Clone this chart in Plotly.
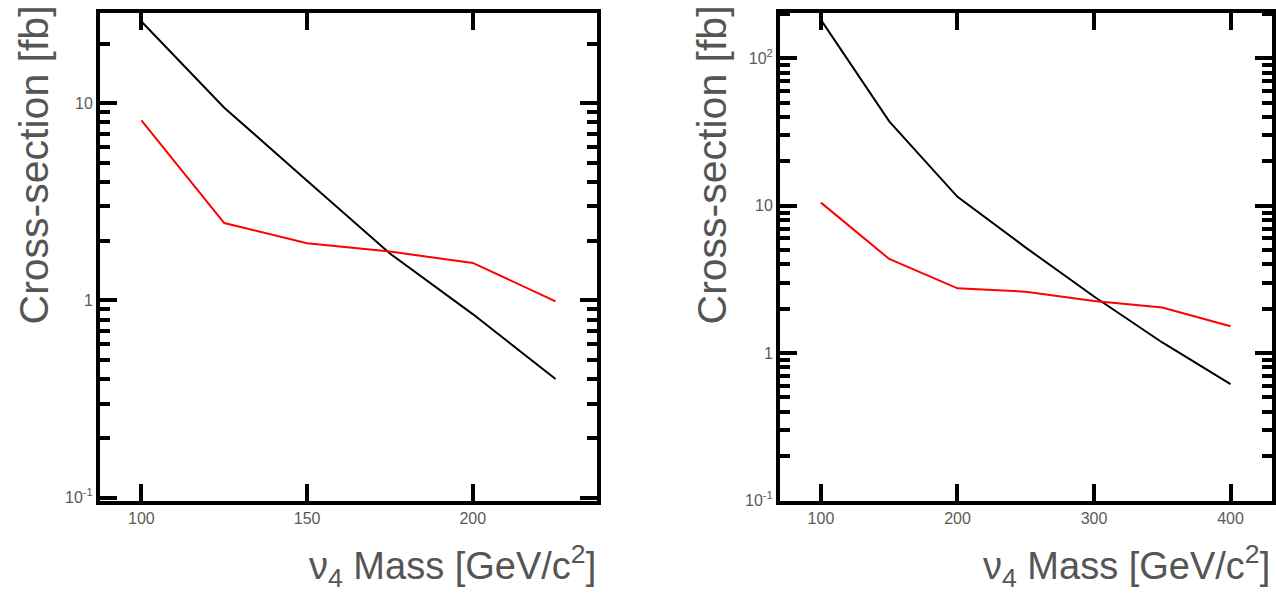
import plotly.graph_objects as go

# ---- data ----
left_mass = [100, 125, 150, 175, 200, 225]
left_black = [26.0, 9.5, 4.05, 1.73, 0.853, 0.40]
left_red = [8.2, 2.47, 1.95, 1.77, 1.55, 0.99]

right_mass = [100, 150, 200, 250, 300, 350, 400]
right_black = [183, 37.4, 11.5, 5.2, 2.42, 1.18, 0.615]
right_red = [10.5, 4.35, 2.75, 2.61, 2.26, 2.04, 1.52]

left_xticks = [100, 150, 200]
right_xticks = [100, 200, 300, 400]
left_yticks = [0.1, 1, 10]
left_yticklabels = ["10<sup>-1</sup>", "1", "10"]
right_yticks = [0.1, 1, 10, 100]
right_yticklabels = ["10<sup>-1</sup>", "1", "10", "10<sup>2</sup>"]
left_yminor = [0.2, 0.3, 0.4, 0.5, 0.6, 0.7, 0.8, 0.9, 2, 3, 4, 5, 6, 7, 8, 9, 20]
right_yminor = [0.2, 0.3, 0.4, 0.5, 0.6, 0.7, 0.8, 0.9, 2, 3, 4, 5, 6, 7, 8, 9,
                20, 30, 40, 50, 60, 70, 80, 90, 200]

x_title = "\u03bd<sub>4</sub> Mass [GeV/c<sup>2</sup>]"
y_title = "Cross-section [fb]"

W, H = 1276, 594
FONT = "Liberation Sans, Arial, sans-serif"
TXT = "#555555"

fig = go.Figure()
fig.add_trace(go.Scatter(x=left_mass, y=left_black, mode="lines",
                         line=dict(color="#000000", width=2), xaxis="x", yaxis="y"))
fig.add_trace(go.Scatter(x=left_mass, y=left_red, mode="lines",
                         line=dict(color="#ff0000", width=2), xaxis="x", yaxis="y"))
fig.add_trace(go.Scatter(x=right_mass, y=right_black, mode="lines",
                         line=dict(color="#000000", width=2), xaxis="x2", yaxis="y2"))
fig.add_trace(go.Scatter(x=right_mass, y=right_red, mode="lines",
                         line=dict(color="#ff0000", width=2), xaxis="x2", yaxis="y2"))

ydom = [(H - 507.6) / H, (H - 13) / H]
lx = [100 / W, 597 / W]
rx = [780 / W, 1271.5 / W]

common_ax = dict(showline=True, linecolor="black", linewidth=4, mirror="ticks",
                 ticks="inside", tickcolor="black", showgrid=False, zeroline=False,
                 tickfont=dict(family=FONT, size=16, color="#5a5a5a"))

fig.update_layout(
    width=W, height=H, margin=dict(l=0, r=0, t=0, b=0),
    paper_bgcolor="white", plot_bgcolor="white", showlegend=False,
    xaxis=dict(domain=lx, anchor="y", range=[87.5, 237.5], tickmode="array",
               tickvals=left_xticks, ticklen=17, tickwidth=4, **common_ax),
    yaxis=dict(domain=ydom, anchor="x", type="log", range=[-1.016, 1.459],
               tickmode="array", tickvals=left_yticks, ticktext=left_yticklabels,
               ticklen=17, tickwidth=4,
               minor=dict(tickmode="array", tickvals=left_yminor, ticks="inside",
                          ticklen=10, tickwidth=3.5, tickcolor="black", showgrid=False),
               **common_ax),
    xaxis2=dict(domain=rx, anchor="y2", range=[70, 430], tickmode="array",
                tickvals=right_xticks, ticklen=17, tickwidth=4, **common_ax),
    yaxis2=dict(domain=ydom, anchor="x2", type="log", range=[-1.003, 2.31],
                tickmode="array", tickvals=right_yticks, ticktext=right_yticklabels,
                ticklen=17, tickwidth=4,
                minor=dict(tickmode="array", tickvals=right_yminor, ticks="inside",
                           ticklen=10, tickwidth=3.5, tickcolor="black", showgrid=False),
                **common_ax),
)

title_font = dict(family=FONT, size=38, color=TXT)
for xr, ytx in [(598 / W, 34 / W), (1272 / W, 712 / W)]:
    fig.add_annotation(text=x_title, xref="paper", yref="paper", x=xr, y=(H - 574) / H,
                       xanchor="right", yanchor="middle", showarrow=False, font=title_font)
    fig.add_annotation(text=y_title, xref="paper", yref="paper", x=ytx, y=(H - 4) / H,
                       xanchor="center", yanchor="top", textangle=-90, showarrow=False,
                       font=dict(family=FONT, size=41, color=TXT))

fig.write_html("out.html", config={"displayModeBar": False},
               post_script="document.body.style.margin='0';")
